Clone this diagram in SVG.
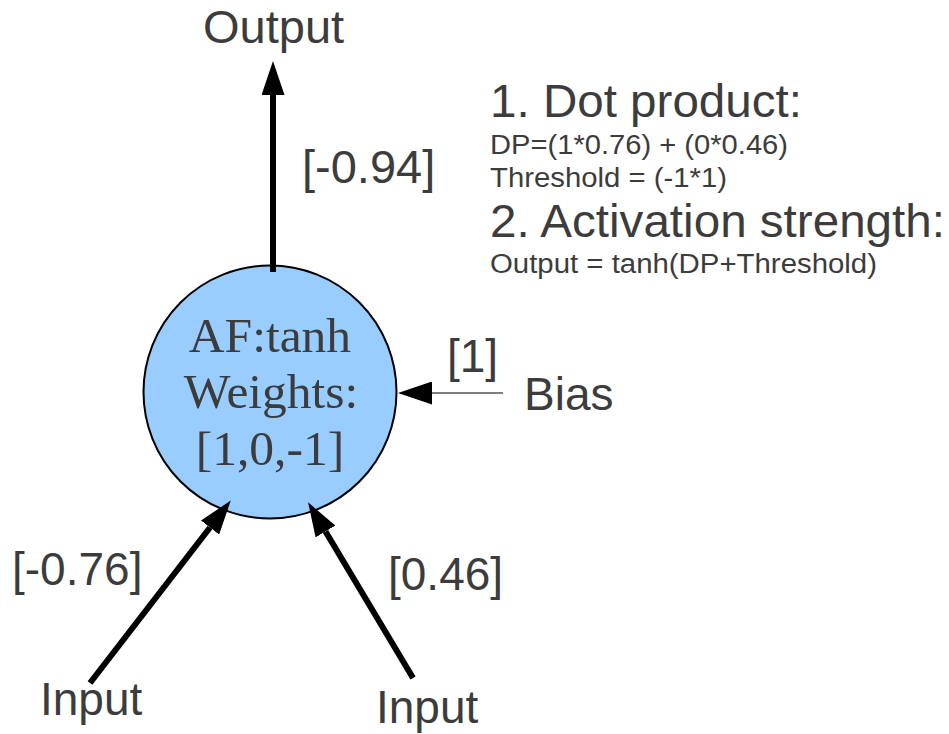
<svg xmlns="http://www.w3.org/2000/svg" width="949" height="734" viewBox="0 0 949 734">
  <style>
    .lbl { font-family: "Liberation Sans", Arial, sans-serif; fill: #3c3c3c; }
    .big { font-size: 46px; }
    .bigger { font-size: 47px; }
    .small { font-size: 27px; }
    .node-text { font-family: "Liberation Serif", "Times New Roman", serif; font-size: 49.5px; fill: #3c3c3c; text-anchor: middle; }
    .wire { stroke: #000; stroke-width: 6; fill: none; marker-end: url(#head); }
    .thin { stroke: #000; stroke-width: 1.2; fill: none; marker-end: url(#head); }
  </style>
  <defs>
    <marker id="head" viewBox="0 0 34 23" markerWidth="34" markerHeight="23" refX="0" refY="11.5" orient="auto" markerUnits="userSpaceOnUse">
      <path d="M0,0 L34,11.5 L0,23 z" fill="#000"/>
    </marker>
  </defs>
  <rect width="949" height="734" fill="#fff"/>

  <!-- neuron -->
  <g id="neuron">
    <circle cx="270" cy="392" r="126.5" fill="#99ccff" stroke="#000" stroke-width="2"/>
    <text class="node-text" x="270" y="352">AF:tanh</text>
    <text class="node-text" x="271" y="408">Weights:</text>
    <text class="node-text" x="270" y="465">[1,0,-1]</text>
  </g>

  <!-- connectors -->
  <g id="connectors">
    <line class="wire" x1="273" y1="272" x2="273" y2="95"/>
    <line class="thin" x1="503" y1="393" x2="432" y2="393"/>
    <line class="wire" x1="90" y1="683" x2="210" y2="527.5"/>
    <line class="wire" x1="413" y1="678" x2="325.5" y2="531.5"/>
  </g>

  <g id="output">
    <text class="lbl bigger" x="203" y="43">Output</text>
  </g>
  <g id="bias">
    <text class="lbl big" x="524" y="410">Bias</text>
  </g>
  <g id="input-left">
    <text class="lbl big" x="40" y="715">Input</text>
  </g>
  <g id="input-right">
    <text class="lbl big" x="376" y="723">Input</text>
  </g>

  <!-- weight labels -->
  <g id="weights">
    <text class="lbl bigger" x="302" y="183">[-0.94]</text>
    <text class="lbl big" x="447" y="372">[1]</text>
    <text class="lbl big" x="12" y="585">[-0.76]</text>
    <text class="lbl big" x="388" y="590">[0.46]</text>
  </g>

  <!-- calculation notes -->
  <g id="notes">
    <text class="lbl big" x="490" y="117" textLength="312" lengthAdjust="spacingAndGlyphs">1. Dot product:</text>
    <text class="lbl small" x="490" y="154" textLength="298" lengthAdjust="spacingAndGlyphs">DP=(1*0.76) + (0*0.46)</text>
    <text class="lbl small" x="490" y="187" textLength="237" lengthAdjust="spacingAndGlyphs">Threshold = (-1*1)</text>
    <text class="lbl big" x="490" y="237" textLength="455" lengthAdjust="spacingAndGlyphs">2. Activation strength:</text>
    <text class="lbl small" x="490" y="273" textLength="387" lengthAdjust="spacingAndGlyphs">Output = tanh(DP+Threshold)</text>
  </g>
</svg>
